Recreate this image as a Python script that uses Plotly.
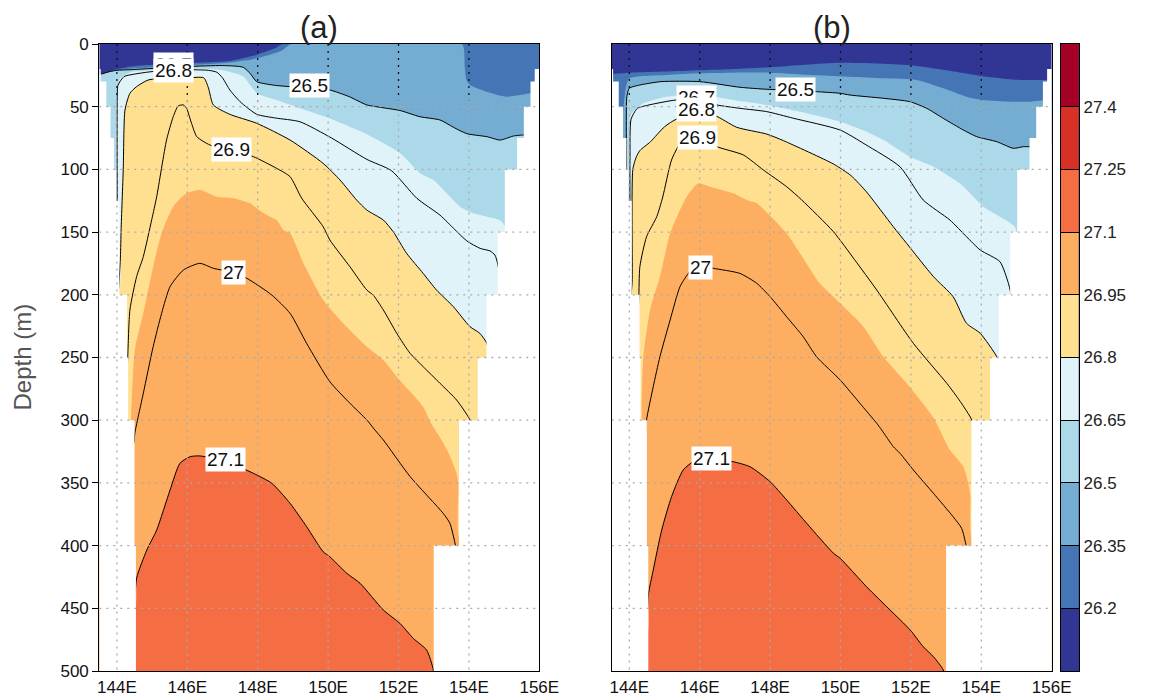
import plotly.graph_objects as go

# ---------------- colour levels (colour bar) ----------------
LEVELS = [26.2, 26.35, 26.5, 26.65, 26.8, 26.95, 27.1, 27.25, 27.4]
LEVEL_TEXT = ["26.2", "26.35", "26.5", "26.65", "26.8", "26.95", "27.1", "27.25", "27.4"]
BAND_MIDS = [26.125, 26.275, 26.425, 26.575, 26.725, 26.875, 27.025, 27.175, 27.325, 27.475]
BAND_COLORS = ["#313695", "#4575b4", "#74add1", "#abd9e9", "#e0f3f8",
               "#fee090", "#fdae61", "#f46d43", "#d73027", "#a50026"]
CB_MIN, CB_MAX = 26.05, 27.55

X_TICKS = [144, 146, 148, 150, 152, 154, 156]
X_TICK_TEXT = ["144E", "146E", "148E", "150E", "152E", "154E", "156E"]
Y_TICKS = [0, 50, 100, 150, 200, 250, 300, 350, 400, 450, 500]
GRID_LON = [144, 146, 148, 150, 152, 154]
GRID_DEP = [50, 100, 150, 200, 250, 300, 350, 400, 450]

# ---------------- bathymetry mask (depth bins, edge longitudes) ----------------
MASK_DEPTH_EDGES = [0, 20, 30, 50, 75, 100, 125, 150, 200, 250, 300, 400, 500]
MASK_LEFT_LON = [143.5, 143.54, 143.7, 143.82, 143.92, 143.98, 144.07, 144.07, 144.29, 144.32, 144.5, 144.54]
MASK_RIGHT_LON = [156.0, 155.87, 155.75, 155.56, 155.37, 155.02, 155.02, 154.82, 154.5, 154.25, 153.72, 153.0]

# ======================= PANEL (a) =======================
# depth (m) of isopycnal surfaces used as fill boundaries
A_F2620_LON = [143.5, 143.7, 143.9, 144.38, 145.0, 146.28, 147.22, 147.78, 147.98, 148.35, 148.55, 148.7]
A_F2620_DEP = [26, 25, 21, 18, 16.5, 15.0, 13.5, 10, 8.5, 4.8, 2.5, 0]

A_F2635_LON = [143.5, 143.62, 143.75, 143.85, 143.92, 144.0, 144.4, 145.0, 146.0, 147.0, 147.8, 148.3,
               148.7, 148.95, 153.8, 153.88, 153.93, 154.03, 154.5, 155.07, 155.45, 155.73, 156.0]
A_F2635_DEP = [30, 60, 78, 65, 35, 22, 19.5, 18.5, 16.8, 15.3, 12.5, 9, 5, 0, 0, 18, 28.7, 32.7, 38, 42,
               40.7, 39.3, 38]

A_L2650_LON = [143.55, 143.8, 144.0, 144.38, 145.0, 146.0, 147.0, 147.59, 147.8, 147.97, 148.5, 148.92,
               149.5, 150.05, 150.6, 151.1, 151.6, 152.04, 152.61, 153.18, 153.56, 153.94, 154.51,
               154.88, 155.07, 155.26, 155.55, 155.62]
A_L2650_DEP = [24, 22, 21, 20.5, 19.5, 18, 17.2, 18.6, 24, 30, 33, 34, 35.5, 36.7, 42, 48.6, 51, 53, 58,
               60.6, 66.4, 71.5, 73.9, 76.6, 75.2, 73.4, 72.6, 73]

A_F2665_LON = [143.9, 143.97, 144.0, 144.1, 144.4, 145.0, 146.0, 146.6, 147.0, 147.3, 147.59, 147.97,
               148.54, 149.2, 149.96, 151.1, 152.04, 152.61, 152.99, 153.37, 153.75, 154.13, 154.51,
               154.88, 155.03, 155.15, 156.0]
A_F2665_DEP = [300, 130, 40, 27, 22.5, 21, 19.3, 20, 21, 23, 26, 39, 44.7, 51.3, 58.5, 72, 87, 103,
               108.5, 119, 129.7, 135, 137.7, 140.4, 145.7, 170, 200]

A_L2680_LON = [144.05, 144.1, 144.12, 144.18, 144.23, 144.37, 144.56, 144.89, 145.5, 146.0, 146.47,
               146.6, 146.74, 147.2, 147.97, 148.92, 149.86, 150.34, 150.81, 151.1, 151.57, 151.85,
               152.23, 152.7, 153.08, 153.56, 154.03, 154.31, 154.51, 154.56]
A_L2680_DEP = [195, 170, 148, 100, 52.6, 39.3, 34, 28.7, 27, 27, 27, 35, 48.6, 56, 63.2, 76.6, 95.2,
               108.5, 124.4, 132.4, 140.4, 149.7, 166.9, 182.9, 196.2, 209.5, 225.4, 230.7, 238.7, 246]

A_F2695_LON = [144.3, 144.37, 144.51, 144.75, 145.03, 145.27, 145.6, 145.98, 146.36, 146.84, 147.31,
               147.78, 148.07, 148.35, 148.54, 148.73, 148.92, 149.3, 149.86, 150.43, 151.1, 151.57,
               151.95, 152.7, 152.9, 153.27, 153.45, 153.65, 153.7, 153.8]
A_F2695_DEP = [400, 323.8, 244, 214.8, 177.6, 151, 129.7, 119.1, 116.4, 121.8, 123, 127, 133, 137.7,
               140.4, 148.3, 151, 174.9, 204.1, 222.7, 241.4, 252, 265.3, 289.2, 301, 318, 328,
               342.4, 350.3, 400]

A_L2710_LON = [144.5, 144.56, 144.85, 145.13, 145.51, 145.79, 146.08, 146.36, 147.1, 147.88, 148.4,
               148.92, 149.39, 149.86, 150.05, 150.53, 150.91, 151.57, 152.04, 152.42, 152.8, 152.99, 153.0]
A_L2710_DEP = [450, 426, 403.5, 387.6, 355.7, 334.4, 329.1, 328.5, 333, 342.4, 350.3, 366.3, 384.9,
               404.9, 408.9, 422.1, 430.1, 451.4, 462, 474, 483.3, 499.2, 510]

# contour lines that are not fill boundaries
A_L2670_LON = [144.01, 144.01, 144.03, 144.2, 144.5, 145.0, 146.0, 146.6, 146.84, 147.0, 147.21,
               147.5, 147.97, 148.5, 149.2, 150.1, 151.1, 151.8, 152.52, 153.18, 153.6, 153.94,
               154.32, 154.6, 154.74, 154.81, 154.85]
A_L2670_DEP = [135, 45, 33, 26, 24, 22, 20.5, 21, 22.5, 27, 36.7, 46, 56, 59, 62, 75, 92, 101, 123,
               136.5, 148, 157, 163, 165, 168.3, 174.4, 180]

A_L2690_LON = [144.3, 144.31, 144.37, 144.56, 144.75, 144.99, 145.13, 145.41, 145.6, 145.74, 145.89,
               145.98, 146.12, 146.27, 146.64, 147.26, 147.88, 148.54, 148.92, 149.25, 149.86, 150.05,
               150.62, 151.1, 151.28, 151.57, 151.95, 152.33, 152.7, 153.18, 153.65, 154.03, 154.1]
A_L2690_DEP = [255, 248, 212, 185.5, 169.6, 140, 121.8, 76.6, 58, 49.4, 48.6, 51.3, 63.2, 73.9, 80.5,
               85, 89.9, 99.2, 105.8, 123, 145.7, 156.3, 177.6, 196.2, 200.2, 212.1, 230.7, 246.7,
               257.3, 270.6, 283.9, 299.8, 310]

A_L2700_LON = [144.49, 144.51, 144.75, 145.03, 145.27, 145.51, 145.89, 146.36, 146.74, 147.3, 147.69,
               148.4, 148.92, 149.39, 150.05, 150.62, 151.1, 151.33, 151.57, 152.33, 153.27, 153.46,
               153.62, 153.66]
A_L2700_DEP = [318, 310.4, 278.6, 241.4, 214.8, 193.5, 180.2, 174.9, 178.9, 182, 186.8, 200.2, 214.8,
               238.7, 269.3, 286.5, 299.8, 307.8, 315.8, 345, 374.3, 382.2, 400.3, 410]

A_LABELS = ["26.7", "26.8", "26.5", "26.9", "27", "27.1"]
A_LABEL_LON = [145.61, 145.61, 149.48, 147.26, 147.30, 147.09]
A_LABEL_DEP = [16.5, 21, 33.3, 84.5, 182.2, 331.7]

# ======================= PANEL (b) =======================
B_F2620_LON = [143.5, 144.0, 145.0, 146.0, 147.0, 148.0, 149.0, 150.0, 151.0, 152.0, 153.0, 154.0,
               155.0, 155.76, 156.0]
B_F2620_DEP = [24, 23, 22, 21, 20, 18.5, 16.5, 15, 15.5, 17, 21, 25.5, 28.5, 28.7, 28.7]

B_F2635_LON = [143.5, 143.6, 143.7, 143.8, 143.9, 144.0, 145.06, 146.0, 147.0, 148.0, 149.0, 150.27,
               151.22, 152.16, 152.92, 153.58, 154.06, 154.82, 155.39, 155.72, 156.0]
B_F2635_DEP = [30, 60, 75, 60, 35, 27.4, 24.7, 23.4, 22.9, 22.9, 24.5, 26.1, 27.4, 28.7, 35.3, 42,
               44.7, 46, 46, 45, 45]

B_L2650_LON = [143.91, 143.92, 143.93, 144.0, 144.3, 144.9, 146.0, 147.14, 147.9, 148.73, 149.32,
               149.99, 150.27, 151.22, 151.97, 152.45, 152.92, 153.49, 153.87, 154.44, 154.91, 155.19,
               155.36, 155.42]
B_L2650_DEP = [110, 100, 42, 35.3, 32.7, 30, 30, 34.5, 36.1, 37, 38, 39.3, 40.7, 43.3, 46, 51.3, 59.3,
               68.6, 73.9, 77.9, 83.2, 81.9, 81.9, 82]

B_F2665_LON = [143.95, 143.98, 144.02, 144.07, 144.4, 145.06, 146.01, 146.96, 147.9, 148.85, 150.0,
               150.74, 151.22, 151.97, 152.64, 153.39, 154.06, 154.53, 154.96, 155.05, 156.0]
B_F2665_DEP = [300, 100, 60, 55.3, 47.3, 42, 40.7, 44.7, 48.6, 54, 62, 70, 76.6, 89.9, 97.8, 111.1,
               129.7, 137.7, 146, 170, 200]

B_L2680_LON = [144.05, 144.08, 144.1, 144.2, 144.3, 144.6, 145.0, 145.35, 146.0, 146.43, 147.05,
               147.9, 148.38, 149.8, 150.3, 150.74, 151.5, 151.88, 152.64, 153.2, 153.58, 153.97,
               154.44, 154.5]
B_L2680_DEP = [200, 190, 100, 90, 85, 78, 66, 59.8, 57, 57.1, 66.4, 71.8, 77.1, 95.7, 105, 118, 145.7,
               159, 185.5, 201.5, 222.7, 230.7, 249.4, 255]

B_F2695_LON = [144.3, 144.35, 144.4, 144.59, 144.87, 145.16, 145.44, 145.63, 145.96, 146.29, 146.96,
               147.33, 147.62, 148.0, 148.47, 148.85, 149.41, 149.99, 150.65, 151.22, 151.88, 152.64,
               153.11, 153.49, 153.63, 153.69, 153.8]
B_F2695_DEP = [400, 290, 249.4, 212.1, 185.5, 151, 132.4, 121.8, 111.1, 113.8, 119.1, 124.4, 127, 137,
               151, 166.9, 190.8, 206.8, 225.4, 249.4, 270.6, 298, 323.8, 337.1, 350.3, 361, 400]

B_L2710_LON = [144.5, 144.54, 144.68, 144.92, 145.2, 145.53, 145.82, 146.3, 146.95, 147.43, 148.0,
               148.47, 149.04, 149.8, 149.99, 150.74, 151.41, 151.98, 152.35, 152.64, 152.92, 153.0]
B_L2710_DEP = [470, 439.4, 419.5, 387.6, 361, 339.7, 333.1, 331, 333.1, 337.1, 349, 363.6, 382.2,
               406.1, 410.1, 432.8, 451.4, 467.3, 480.6, 488.6, 499.2, 510]

B_L2670_LON = [144.02, 144.02, 144.05, 144.23, 144.56, 145.32, 146.0, 146.48, 147.14, 147.9, 148.66,
               149.99, 150.7, 151.69, 152.35, 153.11, 153.58, 153.97, 154.53, 154.77, 154.85]
B_L2670_DEP = [150, 90, 60, 51.3, 48.6, 44.7, 45, 48.6, 51.3, 53.9, 59.2, 68.6, 80, 97.9, 124.4,
               140.4, 153.7, 164.3, 173.6, 190.8, 200]

B_L2690_LON = [144.25, 144.27, 144.30, 144.49, 144.78, 144.95, 145.2, 145.44, 145.6, 146.0, 146.48,
               147.24, 147.81, 148.47, 148.9, 149.8, 150.4, 151.03, 152.07, 153.02, 153.4, 153.73, 153.8]
B_L2690_DEP = [215, 203, 177.6, 153.7, 137.7, 122, 92.5, 79.2, 75, 74, 81.8, 88.5, 100.5, 113.8,
               124.4, 149.7, 172, 196.2, 238.7, 270.6, 285, 299.8, 310]

B_L2700_LON = [144.47, 144.49, 144.68, 144.87, 145.16, 145.44, 145.72, 146.03, 146.39, 147.14, 147.62,
               148.0, 148.47, 148.94, 149.32, 149.99, 150.55, 151.03, 151.17, 151.5, 151.69, 152.07,
               152.64, 153.2, 153.44, 153.57, 153.6]
B_L2700_DEP = [310, 299.8, 273.3, 249.4, 220.1, 193.5, 181.6, 177, 178.9, 182.9, 190.8, 201.5, 217.5,
               233.4, 249.4, 267.9, 286.5, 302.5, 307.8, 321.1, 326.4, 339.7, 358.3, 377, 386.2,
               400.3, 410]

B_LABELS = ["26.5", "26.7", "26.8", "26.9", "27", "27.1"]
B_LABEL_LON = [148.73, 145.9, 145.9, 145.93, 146.03, 146.33]
B_LABEL_DEP = [36.0, 43, 52, 74.6, 178, 330.8]

# ---------------- styling ----------------
FONT = "Liberation Sans Narrow, Liberation Sans, Arial, sans-serif"
W, H = 1155, 699
PX_A = (99.3, 539.3)
PX_B = (611.7, 1051.7)
PX_CB = (1060.7, 1079.0)
PX_Y = (44, 671)
X_OUT_L, X_OUT_R, DEEP_OUT = 143.0, 156.6, 700
SMOOTH = 0.6

fig = go.Figure()


def add_fill(lon, dep, color, xa, ya):
    xs = [X_OUT_L] + list(lon) + [X_OUT_R, X_OUT_R, X_OUT_L]
    ys = [dep[0]] + list(dep) + [dep[-1], DEEP_OUT, DEEP_OUT]
    fig.add_trace(go.Scatter(x=xs, y=ys, mode="lines", fill="toself", fillcolor=color,
                             line=dict(width=0, color=color, shape="spline", smoothing=SMOOTH),
                             hoverinfo="skip", showlegend=False, xaxis=xa, yaxis=ya))


def add_line(lon, dep, xa, ya):
    fig.add_trace(go.Scatter(x=lon, y=dep, mode="lines",
                             line=dict(width=1, color="black", shape="spline", smoothing=SMOOTH),
                             hoverinfo="skip", showlegend=False, xaxis=xa, yaxis=ya))


def mask_side(edge_lons, outer):
    xs, ys = [outer], [MASK_DEPTH_EDGES[0]]
    last = len(edge_lons) - 1
    for i, lon in enumerate(edge_lons):
        bot = MASK_DEPTH_EDGES[i + 1] if i < last else DEEP_OUT
        xs += [lon, lon]
        ys += [MASK_DEPTH_EDGES[i], bot]
    xs += [outer]
    ys += [DEEP_OUT]
    return xs, ys


def add_mask(xa, ya):
    for edge, outer in ((MASK_LEFT_LON, X_OUT_L), (MASK_RIGHT_LON, X_OUT_R)):
        xs, ys = mask_side(edge, outer)
        fig.add_trace(go.Scatter(x=xs, y=ys, mode="lines", fill="toself", fillcolor="white",
                                 line=dict(width=0, color="white"), hoverinfo="skip",
                                 showlegend=False, xaxis=xa, yaxis=ya))


panels = [
    ("x", "y",
     [(A_F2620_LON, A_F2620_DEP), (A_F2635_LON, A_F2635_DEP), (A_L2650_LON, A_L2650_DEP),
      (A_F2665_LON, A_F2665_DEP), (A_L2680_LON, A_L2680_DEP), (A_F2695_LON, A_F2695_DEP),
      (A_L2710_LON, A_L2710_DEP)],
     [(A_L2650_LON, A_L2650_DEP), (A_L2670_LON, A_L2670_DEP), (A_L2680_LON, A_L2680_DEP),
      (A_L2690_LON, A_L2690_DEP), (A_L2700_LON, A_L2700_DEP), (A_L2710_LON, A_L2710_DEP)],
     (A_LABELS, A_LABEL_LON, A_LABEL_DEP)),
    ("x2", "y2",
     [(B_F2620_LON, B_F2620_DEP), (B_F2635_LON, B_F2635_DEP), (B_L2650_LON, B_L2650_DEP),
      (B_F2665_LON, B_F2665_DEP), (B_L2680_LON, B_L2680_DEP), (B_F2695_LON, B_F2695_DEP),
      (B_L2710_LON, B_L2710_DEP)],
     [(B_L2650_LON, B_L2650_DEP), (B_L2670_LON, B_L2670_DEP), (B_L2680_LON, B_L2680_DEP),
      (B_L2690_LON, B_L2690_DEP), (B_L2700_LON, B_L2700_DEP), (B_L2710_LON, B_L2710_DEP)],
     (B_LABELS, B_LABEL_LON, B_LABEL_DEP)),
]

shapes = []
annotations = []
for xa, ya, fills, lines, labels in panels:
    for k, (lon, dep) in enumerate(fills):
        add_fill(lon, dep, BAND_COLORS[k + 1], xa, ya)
    for lon, dep in lines:
        add_line(lon, dep, xa, ya)
    add_mask(xa, ya)
    for g in GRID_LON:
        shapes.append(dict(type="line", xref=xa, yref=ya, x0=g, x1=g, y0=0, y1=45, layer="above",
                           line=dict(color="#111111", width=1.3, dash="2px,5px")))
        shapes.append(dict(type="line", xref=xa, yref=ya, x0=g, x1=g, y0=45, y1=500, layer="above",
                           line=dict(color="#aaaaaa", width=1.3, dash="2px,5px")))
    for g in GRID_DEP:
        shapes.append(dict(type="line", xref=xa, yref=ya, x0=143.5, x1=156, y0=g, y1=g,
                           layer="above", line=dict(color="#aaaaaa", width=1.3, dash="2px,5px")))
    texts, llon, ldep = labels
    for t, lo, de in zip(texts, llon, ldep):
        annotations.append(dict(xref=xa, yref=ya, x=lo, y=de, text=t, showarrow=False,
                                xanchor="center", yanchor="middle",
                                bgcolor="white", borderpad=1,
                                font=dict(family=FONT, size=19, color="#111111")))

# colour bar drawn as a one-column heatmap on its own axes
cscale = []
n = len(BAND_COLORS)
for i, c in enumerate(BAND_COLORS):
    cscale.append([i / n, c])
    cscale.append([(i + 1) / n, c])
fig.add_trace(go.Heatmap(x=[0], y=BAND_MIDS, z=[[m] for m in BAND_MIDS], colorscale=cscale,
                         zmin=CB_MIN, zmax=CB_MAX, showscale=False, hoverinfo="skip",
                         xaxis="x3", yaxis="y3"))

# titles
for label, px in (("(a)", PX_A), ("(b)", PX_B)):
    annotations.append(dict(xref="paper", yref="paper", x=(px[0] + px[1]) / 2 / W, y=1 - 27 / H,
                            xanchor="center", yanchor="middle", text=label, showarrow=False,
                            font=dict(family="Liberation Sans, Arial", size=31, color="#222222")))
annotations.append(dict(xref="paper", yref="paper", x=22 / W, y=1 - (PX_Y[0] + PX_Y[1]) / 2 / H,
                        xanchor="center", yanchor="middle",
                        text="Depth (m)", textangle=-90, showarrow=False,
                        font=dict(family="Liberation Sans, Arial", size=24, color="#555555")))

ydom = [1 - PX_Y[1] / H, 1 - PX_Y[0] / H]
axis_common = dict(showgrid=False, zeroline=False, showline=True, linecolor="black", linewidth=1.2,
                   mirror=True, automargin=False)
tickfont = dict(family=FONT, size=17, color="#111111")
fig.update_layout(
    width=W, height=H, autosize=False,
    margin=dict(l=0, r=0, t=0, b=0, autoexpand=False),
    paper_bgcolor="white", plot_bgcolor=BAND_COLORS[0],
    showlegend=False,
    xaxis=dict(domain=[PX_A[0] / W, PX_A[1] / W], range=[143.5, 156], anchor="y",
               tickvals=X_TICKS, ticktext=X_TICK_TEXT, ticks="", tickfont=tickfont, **axis_common),
    yaxis=dict(domain=ydom, range=[500, 0], anchor="x", tickvals=Y_TICKS, ticks="outside",
               ticklen=6, tickcolor="black", tickfont=tickfont, **axis_common),
    xaxis2=dict(domain=[PX_B[0] / W, PX_B[1] / W], range=[143.5, 156], anchor="y2",
                tickvals=X_TICKS, ticktext=X_TICK_TEXT, ticks="", tickfont=tickfont, **axis_common),
    yaxis2=dict(domain=ydom, range=[500, 0], anchor="x2", showticklabels=False, ticks="",
                **axis_common),
    xaxis3=dict(domain=[PX_CB[0] / W, PX_CB[1] / W], range=[-0.5, 0.5], anchor="y3",
                showticklabels=False, ticks="", **axis_common),
    yaxis3=dict(domain=ydom, range=[CB_MIN, CB_MAX], anchor="x3", side="right",
                tickvals=LEVELS, ticktext=LEVEL_TEXT, ticks="inside", ticklen=18,
                tickcolor="black", tickwidth=1,
                tickfont=dict(family=FONT, size=17, color="#222222"), **axis_common),
    shapes=shapes,
    annotations=annotations,
)

fig.write_html("out.html", config={"displayModeBar": False},
               post_script="document.body.style.margin='0';"
                           "document.body.style.overflow='hidden';")
